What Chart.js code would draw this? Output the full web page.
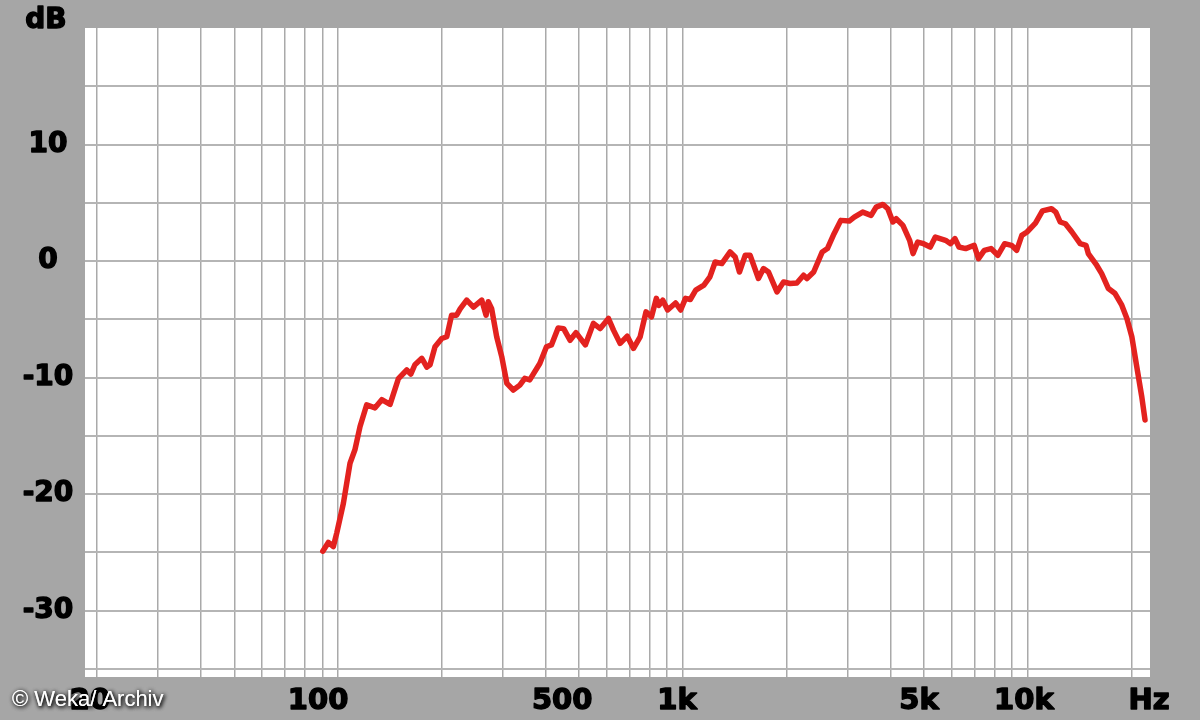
<!DOCTYPE html>
<html>
<head>
<meta charset="utf-8">
<script src="https://cdn.jsdelivr.net/npm/chart.js@4/dist/chart.umd.min.js"></script>
<style>
  html, body { margin: 0; padding: 0; background: #a6a6a6; }
  #wrap { width: 1200px; height: 720px; }
</style>
</head>
<body>
<div id="wrap"><canvas id="fr" width="1200" height="720"></canvas></div>
<script>
// ====== DATA
const freqs = [
  90.3, 93.7, 96.9, 99.1, 103.6, 108.3, 111.9, 115.8, 121, 128,
  133.9, 141.5, 149.6, 158.2, 162.5, 167, 174.9, 180.9, 184.8, 191,
  199.8, 206.6, 213.4, 220.6, 225.9, 236, 246.9, 260.9, 268.6, 272.6,
  278.8, 288.3, 298.2, 308.6, 322.1, 336.5, 347.8, 359.5, 384.5, 402,
  415.6, 434.5, 450.8, 470.5, 489.5, 521.1, 549.9, 575.5, 608.2, 628.8,
  657.5, 689.5, 718.8, 751.3, 781.3, 810.6, 837, 851.5, 874, 902.6,
  951.7, 984.6, 1017, 1050, 1089, 1150, 1197, 1240, 1296, 1370,
  1417, 1458, 1515, 1566, 1655, 1712, 1770, 1873, 1957, 2045,
  2139, 2237, 2288, 2393, 2534, 2623, 2742, 2868, 3034, 3138,
  3320, 3512, 3631, 3799, 3926, 4061, 4152, 4342, 4541, 4647,
  4792, 4983, 5212, 5392, 5772, 5969, 6147, 6313, 6603, 6986,
  7192, 7475, 7819, 8183, 8566, 8964, 9279, 9605, 9942, 10520,
  11020, 11710, 12050, 12410, 12850, 13420, 14180, 14740, 14970, 15830,
  16370, 17120, 17900, 18720, 19370, 20020, 20690, 21380, 21860
];
const levels = [
  -24.9, -24.15, -24.5, -23.35, -20.8, -17.35, -16.2, -14.2, -12.35, -12.6,
  -11.9, -12.3, -10.1, -9.35, -9.7, -8.9, -8.35, -9.1, -8.9, -7.35,
  -6.65, -6.5, -4.65, -4.65, -4.1, -3.35, -3.95, -3.35, -4.65, -3.5,
  -4.1, -6.5, -8.2, -10.5, -11.07, -10.65, -10.07, -10.2, -8.8, -7.36,
  -7.2, -5.75, -5.8, -6.8, -6.15, -7.2, -5.35, -5.8, -4.93, -5.93,
  -7.07, -6.45, -7.5, -6.5, -4.36, -4.79, -3.2, -3.8, -3.36, -4.2,
  -3.6, -4.2, -3.2, -3.3, -2.5, -2.07, -1.36, -0.08, -0.22, 0.78,
  0.35, -0.94, 0.49, 0.49, -1.5, -0.65, -0.94, -2.65, -1.8, -1.93,
  -1.88, -1.22, -1.5, -0.94, 0.78, 1.07, 2.35, 3.49, 3.43, 3.77,
  4.2, 3.92, 4.63, 4.86, 4.49, 3.35, 3.63, 3.06, 1.78, 0.64,
  1.63, 1.49, 1.2, 2.06, 1.78, 1.49, 1.92, 1.2, 1.07, 1.35,
  0.21, 0.92, 1.07, 0.49, 1.49, 1.35, 0.92, 2.2, 2.49, 3.25,
  4.3, 4.49, 4.2, 3.35, 3.2, 2.49, 1.49, 1.35, 0.64, -0.36,
  -1.08, -2.36, -2.79, -3.79, -4.93, -6.5, -9.07, -11.6, -13.64
];

// grid + tick labels
const xGrid = [20,30,40,50,60,70,80,90,100,200,300,400,500,600,700,800,900,
  1000,2000,3000,4000,5000,6000,7000,8000,9000,10000,20000];
const xTickValues = [20, 100, 500, 1000, 5000, 10000];
const xTickLabels = ['20', '100', '500', '1k', '5k', '10k'];
const yGrid = [-35,-30,-25,-20,-15,-10,-5,0,5,10,15];
const yTickValues = [10, 0, -10, -20, -30];
const yTickLabels = ['10', '0', '-10', '-20', '-30'];

// ====== STYLE
const BG = '#a6a6a6';
const LABEL_FONT = 'bold 28px "DejaVu Sans"';
const XLABEL_FONT = 'bold 29px "DejaVu Sans"';
// the printed x labels sit a bit left of their grid lines
const xNudge = [-7, -20, -17, -6, -5, -4];

// heavy black label (stroke fattens the glyphs a little)
function heavyText(ctx, txt, x, y) {
  ctx.strokeText(txt, x, y);
  ctx.fillText(txt, x, y);
}

const frame = {
  id: 'frame',
  beforeDraw(chart) {
    const { ctx, chartArea: a } = chart;
    ctx.save();
    ctx.fillStyle = BG;
    ctx.fillRect(0, 0, chart.width, chart.height);
    ctx.fillStyle = '#ffffff';
    ctx.fillRect(a.left, a.top, a.right - a.left, a.bottom - a.top);
    ctx.restore();
  },
  afterDraw(chart) {
    const { ctx, scales: { x, y } } = chart;
    ctx.save();
    ctx.fillStyle = '#000';
    ctx.strokeStyle = '#000';
    ctx.lineWidth = 1.4;
    ctx.lineJoin = 'round';
    ctx.textAlign = 'center';

    // y labels
    ctx.font = LABEL_FONT;
    ctx.textBaseline = 'middle';
    yTickValues.forEach((v, i) => heavyText(ctx, yTickLabels[i], 48, y.getPixelForValue(v)));
    ctx.textBaseline = 'alphabetic';
    heavyText(ctx, 'dB', 46, 28);

    // x labels
    ctx.font = XLABEL_FONT;
    xTickValues.forEach((v, i) => heavyText(ctx, xTickLabels[i], x.getPixelForValue(v) + xNudge[i], 709));
    heavyText(ctx, 'Hz', 1149, 709);

    // watermark
    ctx.font = '22px "Liberation Sans", Arial, sans-serif';
    ctx.textAlign = 'left';
    ctx.fillStyle = '#ffffff';
    ctx.shadowColor = 'rgba(0,0,0,1)';
    ctx.shadowBlur = 4;
    ctx.shadowOffsetX = 1;
    ctx.shadowOffsetY = 1;
    ctx.fillText('\u00A9 Weka/ Archiv', 12, 706);
    ctx.fillText('\u00A9 Weka/ Archiv', 12, 706);
    ctx.restore();
  }
};

// ====== CHART
window.addEventListener('DOMContentLoaded', () => {
  const ctx = document.getElementById('fr').getContext('2d');
  new Chart(ctx, {
    type: 'line',
    data: {
      datasets: [{
        data: freqs.map((f, i) => ({ x: f, y: levels[i] })),
        borderColor: '#e3221f',
        borderWidth: 5.5,
        borderJoinStyle: 'round',
        borderCapStyle: 'round',
        pointRadius: 0,
        tension: 0,
        fill: false
      }]
    },
    options: {
      responsive: false,
      animation: false,
      layout: { padding: { left: 85, right: 50, top: 28, bottom: 43 } },
      plugins: { legend: { display: false }, tooltip: { enabled: false } },
      scales: {
        x: {
          type: 'logarithmic',
          min: 18.46,
          max: 22600,
          afterBuildTicks: s => { s.ticks = xGrid.map(v => ({ value: v })); },
          ticks: { display: false },
          grid: { color: '#a9a9a9', lineWidth: 1.5, drawTicks: false },
          border: { display: false }
        },
        y: {
          type: 'linear',
          min: -35.7,
          max: 20,
          afterBuildTicks: s => { s.ticks = yGrid.map(v => ({ value: v })); },
          ticks: { display: false },
          grid: { color: '#b5b5b5', lineWidth: 2, drawTicks: false },
          border: { display: false }
        }
      }
    },
    plugins: [frame]
  });
});
</script>
</body>
</html>
